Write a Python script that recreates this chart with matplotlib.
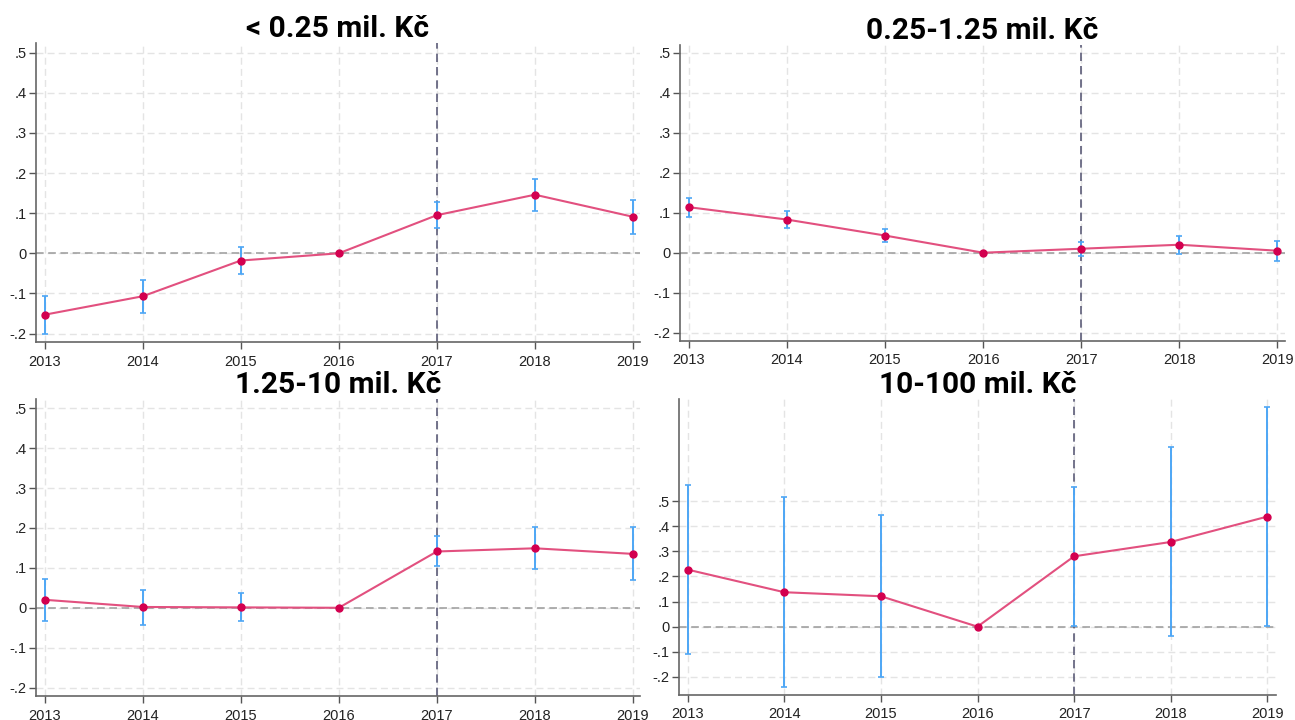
import matplotlib
matplotlib.use('Agg')
import matplotlib.pyplot as plt
from matplotlib import font_manager

years = [2013, 2014, 2015, 2016, 2017, 2018, 2019]

titles = ['< 0.25 mil. Kč', '0.25-1.25 mil. Kč', '1.25-10 mil. Kč', '10-100 mil. Kč']

# point estimates
coef_1 = [-0.153, -0.107, -0.018, 0.0, 0.095, 0.146, 0.091]
coef_2 = [0.114, 0.083, 0.043, 0.0, 0.010, 0.020, 0.005]
coef_3 = [0.020, 0.002, 0.001, 0.0, 0.141, 0.149, 0.135]
coef_4 = [0.227, 0.137, 0.121, 0.0, 0.280, 0.337, 0.438]

# confidence interval bounds
low_1 = [-0.201, -0.148, -0.052, 0.0, 0.062, 0.106, 0.047]
high_1 = [-0.106, -0.066, 0.016, 0.0, 0.128, 0.185, 0.134]
low_2 = [0.089, 0.062, 0.027, 0.0, -0.008, -0.002, -0.020]
high_2 = [0.137, 0.104, 0.059, 0.0, 0.028, 0.043, 0.030]
low_3 = [-0.032, -0.042, -0.033, 0.0, 0.105, 0.096, 0.069]
high_3 = [0.073, 0.045, 0.036, 0.0, 0.179, 0.202, 0.202]
low_4 = [-0.109, -0.239, -0.200, 0.0, 0.004, -0.038, 0.003]
high_4 = [0.564, 0.515, 0.446, 0.0, 0.556, 0.714, 0.873]

ytick_vals = [-0.2, -0.1, 0, 0.1, 0.2, 0.3, 0.4, 0.5]
ytick_labels = ['-.2', '-.1', '0', '.1', '.2', '.3', '.4', '.5']

installed = {f.name for f in font_manager.fontManager.ttflist}
title_font = 'Roboto' if 'Roboto' in installed else 'DejaVu Sans'
plt.rcParams['font.family'] = ['Liberation Sans', 'DejaVu Sans']

fig = plt.figure(figsize=(12.95, 7.2), dpi=100)

W, H = 1295, 720
# panel boxes in pixels: left, top, right, bottom
boxes = [(36, 43, 640, 342), (680, 45, 1285, 341), (36, 399, 640, 696), (679, 399, 1276, 695)]
ylims = [(-0.221, 0.524), (-0.221, 0.520), (-0.221, 0.523), (-0.272, 0.906)]
xlims = [(2012.911, 2019.072), (2012.91, 2019.077), (2012.911, 2019.072), (2012.91, 2019.09)]

panels = [(coef_1, low_1, high_1), (coef_2, low_2, high_2),
          (coef_3, low_3, high_3), (coef_4, low_4, high_4)]

for i, (coef, low, high) in enumerate(panels):
    l, t, r, b = boxes[i]
    ax = fig.add_axes([l / W, 1 - b / H, (r - l) / W, (b - t) / H])

    for yv in ytick_vals:
        ax.axhline(yv, color='#e4e4e4', lw=1.0, ls=(0, (5, 3)), zorder=0)
    for xv in years:
        ax.axvline(xv, color='#e4e4e4', lw=1.0, ls=(0, (5, 3)), zorder=0)

    ax.axhline(0, color='#9a9a9a', lw=1.1, ls=(0, (5, 3)), zorder=1)
    ax.axvline(2017, color='#5c5c78', lw=1.2, ls=(0, (5, 3)), zorder=1)

    yerr = [[c - lo for c, lo in zip(coef, low)], [hi - c for c, hi in zip(coef, high)]]
    ax.errorbar(years, coef, yerr=yerr, fmt='none', ecolor='#4da6f5', elinewidth=1.4,
                capsize=2.5, capthick=1.2, zorder=2)
    ax.plot(years, coef, color='#e2507f', lw=1.5, zorder=3)
    ax.plot(years, coef, 'o', color='#d3004f', ms=5, zorder=4)

    ax.set_xlim(*xlims[i])
    ax.set_ylim(*ylims[i])
    ax.set_xticks(years)
    ax.set_xticklabels([str(y) for y in years])
    ax.set_yticks(ytick_vals)
    ax.set_yticklabels(ytick_labels)
    ax.tick_params(axis='both', labelsize=10.5, colors='#555555', labelcolor='#222222',
                   length=5, width=1, direction='out')
    ax.tick_params(axis='x', pad=4)
    ax.tick_params(axis='y', pad=2)

    for side in ['top', 'right']:
        ax.spines[side].set_visible(False)
    for side in ['left', 'bottom']:
        ax.spines[side].set_color('#666666')
        ax.spines[side].set_linewidth(1.2)

    ax.set_title(titles[i], fontsize=21.5, fontweight='bold', family=title_font, pad=3)

plt.savefig('out.png', dpi=100, facecolor='white')
